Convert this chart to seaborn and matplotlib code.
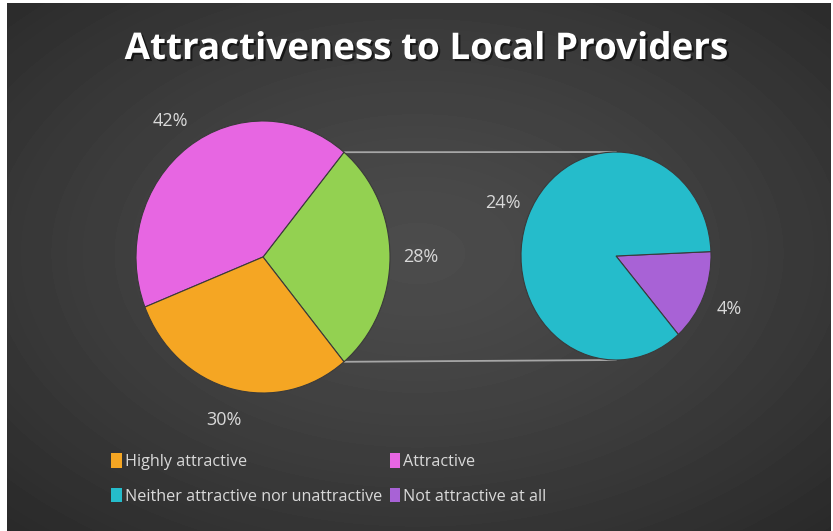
import matplotlib
matplotlib.use("Agg")
import matplotlib.pyplot as plt
import matplotlib.patheffects as pe
from matplotlib.patches import Patch
from matplotlib.lines import Line2D
import seaborn as sns
import numpy as np

# data
title = "Attractiveness to Local Providers"
main_names = ["Other", "Attractive", "Highly attractive"]
main_values = [28, 42, 30]
sub_names = ["Not attractive at all", "Neither attractive nor unattractive"]
sub_values = [4, 24]
legend_order = ["Highly attractive", "Attractive",
                "Neither attractive nor unattractive", "Not attractive at all"]

colors = {
    "Highly attractive": "#f5a623",
    "Attractive": "#e766e2",
    "Other": "#93d151",
    "Neither attractive nor unattractive": "#25bccb",
    "Not attractive at all": "#a862d6",
}

sns.set_theme(style="dark")
plt.rcParams["font.family"] = ["Open Sans", "DejaVu Sans"]

W, H = 833, 531
fig = plt.figure(figsize=(W / 100, H / 100), dpi=100)
fig.patch.set_facecolor("white")

# dark radial background
bg = fig.add_axes([7 / W, 0, 824 / W, 528 / H], zorder=-5)
yy, xx = np.mgrid[0:528, 0:824]
d = np.sqrt(((xx - 410) / 824) ** 2 + ((yy - 250) / 528) ** 2)
g = np.clip(d / 0.75, 0, 1)
shade = (0x4c - (0x4c - 0x28) * g ** 1.3) / 255
bg.imshow(shade, cmap="gray", vmin=0, vmax=1, aspect="auto", interpolation="bilinear")
bg.axis("off")


def px_axes(cx, cy, rx, ry):
    a = fig.add_axes([(cx - rx) / W, 1 - (cy + ry) / H, 2 * rx / W, 2 * ry / H])
    a.patch.set_alpha(0)
    return a


txt = dict(color="#d9d9d9", fontsize=13)
edge = dict(edgecolor="#3a3a3a", linewidth=0.8)

# main pie
ax1 = px_axes(263, 257, 127, 136)
w1, t1 = ax1.pie(main_values, colors=[colors[n] for n in main_names],
                 startangle=-main_values[0] / sum(main_values) * 180,
                 labels=[f"{v}%" for v in main_values], labeldistance=1.24,
                 textprops=txt, wedgeprops=edge)
for t in t1:
    t.set_ha("center")
ax1.set_aspect("auto")
ax1.set_xlim(-1, 1)
ax1.set_ylim(-1, 1)
ax1.axis("off")

# second pie
ax2 = px_axes(616, 256, 95, 104)
w2, t2 = ax2.pie(sub_values, colors=[colors[n] for n in sub_names],
                 startangle=-49,
                 labels=[f"{v}%" for v in sub_values], labeldistance=1.3,
                 textprops=txt, wedgeprops=edge)
for t in t2:
    t.set_ha("center")
ax2.set_aspect("auto")
ax2.set_xlim(-1, 1)
ax2.set_ylim(-1, 1)
ax2.axis("off")

# connector lines
to_fig = fig.transFigure.inverted()
for ang, yend in [(w1[0].theta2, 1), (w1[0].theta1, -1)]:
    a = np.deg2rad(ang)
    p0 = to_fig.transform(ax1.transData.transform((np.cos(a), np.sin(a))))
    p1 = to_fig.transform(ax2.transData.transform((0, yend)))
    fig.add_artist(Line2D([p0[0], p1[0]], [p0[1], p1[1]], color="#a6a6a6",
                          lw=1.3, transform=fig.transFigure, zorder=-1))

fig.text(426 / W, 1 - 49 / H, title, ha="center", va="center", fontsize=26.5,
         fontweight="bold", color="white",
         path_effects=[pe.withSimplePatchShadow(offset=(1.5, -1.5), shadow_rgbFace="black", alpha=0.6)])

# legend (column-wise fill)
handles = [Patch(facecolor=colors[n], edgecolor="none") for n in legend_order]
order = [0, 2, 1, 3]
fig.legend([handles[i] for i in order], [legend_order[i] for i in order],
           ncol=2, loc="upper left", bbox_to_anchor=(105 / W, 1 - 447 / H),
           frameon=False, fontsize=11.6, labelcolor="#d9d9d9",
           handlelength=0.65, handleheight=1.0, handletextpad=0.2,
           columnspacing=0.45, labelspacing=1.1, borderaxespad=0)

fig.savefig("out.png", dpi=100, facecolor=fig.get_facecolor())
